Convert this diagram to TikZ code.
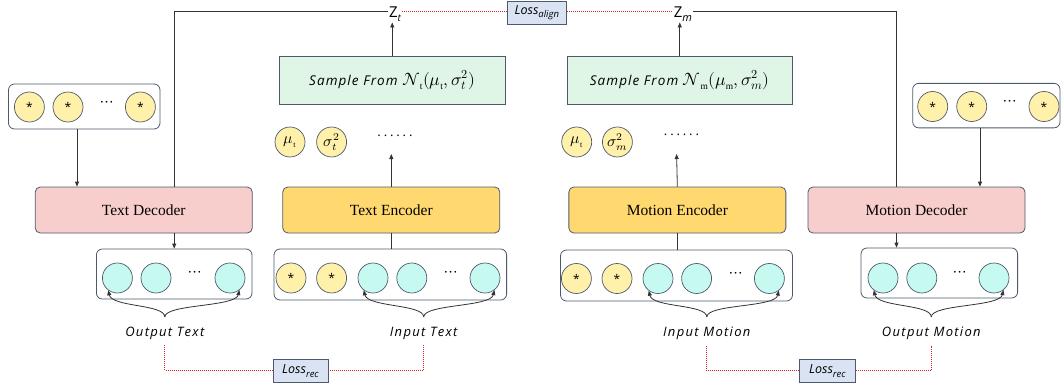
\documentclass[tikz,border=0pt]{standalone}
\usepackage{fontspec}
\usepackage{unicode-math}
\setmainfont{Liberation Serif}
\setmathfont{Latin Modern Math}[Scale=1.3]
\newfontfamily\sansf{Open Sans}
\newfontfamily\labf[LetterSpace=10]{Open Sans}
\newfontfamily\samf[LetterSpace=8]{Open Sans}
\newfontfamily\dotf[LetterSpace=22]{Open Sans}
\usetikzlibrary{arrows.meta}
\definecolor{bord}{HTML}{4D5A6E}
\definecolor{decfill}{HTML}{F8CECC}
\definecolor{encfill}{HTML}{FFD970}
\definecolor{samfill}{HTML}{DFF5E6}
\definecolor{ycirc}{HTML}{FFF0AA}
\definecolor{ccirc}{HTML}{C6FAF0}
\definecolor{lossfill}{HTML}{DAE3F3}
\definecolor{lnc}{HTML}{333333}
\definecolor{redl}{HTML}{E02020}
\tikzset{
  blk/.style={draw=bord, rounded corners=5pt, minimum width=217pt, minimum height=46pt, line width=0.8pt, font=\fontsize{15.5}{18}\selectfont},
  dec/.style={blk, fill=decfill},
  enc/.style={blk, fill=encfill},
  sam/.style={draw=bord, fill=samfill, minimum width=225.5pt, minimum height=48pt, line width=0.8pt, font=\samf\itshape\fontsize{13.5}{15}\selectfont},
  cont/.style={draw=bord, rounded corners=6pt, line width=0.8pt, inner sep=0pt},
  yc/.style={circle, draw=bord, fill=ycirc, minimum size=30pt, inner sep=0pt, line width=0.7pt, font=\sansf\fontsize{12}{14}\selectfont},
  cc/.style={yc, fill=ccirc},
  dts/.style={inner sep=0pt, font=\fontsize{13}{15}\selectfont},
  arr/.style={-{Triangle[length=5pt,width=4pt]}, draw=lnc, line width=0.8pt},
  ln/.style={draw=lnc, line width=0.8pt},
  reddot/.style={draw=redl, line width=0.8pt, dash pattern=on 1pt off 1pt},
  lossb/.style={draw=bord, fill=lossfill, line width=0.8pt, inner sep=0pt, font=\sansf\itshape\fontsize{12.5}{14}\selectfont},
  lab/.style={font=\labf\itshape\fontsize{13}{15}\selectfont, inner sep=1pt},
  zl/.style={font=\sansf\fontsize{15}{17}\selectfont, inner sep=1pt},
  mc/.style={yc, font=\fontsize{12}{14}\selectfont}
}
\begin{document}
\begin{tikzpicture}[x=1pt,y=-1pt]
\useasboundingbox (0,0) rectangle (1061,383);

% main blocks
\node[dec] (tdec) at (143.75,210) {Text Decoder};
\node[enc] (tenc) at (391.3,210) {Text Encoder};
\node[enc] (menc) at (677.35,210) {Motion Encoder};
\node[dec] (mdec) at (916.5,210) {Motion Decoder};

% sample boxes
\node[sam] (st) at (392.25,80) {Sample From $\mathcal{N}_{\mathrm{t}}(\mu_{\mathrm{t}},\sigma_t^2)$};
\node[sam] (sm) at (679.75,80) {Sample From $\mathcal{N}_{\mathrm{m}}(\mu_{\mathrm{m}},\sigma_m^2)$};

% Z labels
\node[zl] (zt) at (395,14) {Z\raisebox{-0.25em}{\fontsize{10}{12}\selectfont\itshape t}};
\node[zl] (zm) at (683,14) {Z\raisebox{-0.25em}{\fontsize{11}{12}\selectfont\itshape m}};

% loss boxes
\node[lossb, minimum width=59.6pt, minimum height=23.5pt] (lalign) at (536.8,12.75) {Loss\raisebox{-0.3em}{\fontsize{9.5}{11}\selectfont align}};
\node[lossb, minimum width=55pt, minimum height=23.5pt] (lrec1) at (300.5,370.75) {Loss\raisebox{-0.3em}{\fontsize{9.5}{11}\selectfont rec}};
\node[lossb, minimum width=56.8pt, minimum height=23.5pt] (lrec2) at (827.4,370.75) {Loss\raisebox{-0.3em}{\fontsize{9.5}{11}\selectfont rec}};

% star containers
\node[cont, minimum width=151.5pt, minimum height=45pt] (lstar) at (84.25,106.5) {};
\node[yc] (ls1) at (29.4,107) {*};
\node[yc] (ls2) at (68,107) {*};
\node[dts] (lsd) at (106.6,103.5) {$\cdots$};
\node[yc] (ls3) at (140.4,107) {*};

\node[cont, minimum width=147.3pt, minimum height=44.5pt] (rstar) at (986.35,105.6) {};
\node[yc] (rs1) at (932.7,106.5) {*};
\node[yc] (rs2) at (971.7,106.5) {*};
\node[dts] (rsd) at (1010,103) {$\cdots$};
\node[yc] (rs3) at (1044,106.5) {*};

% mu / sigma rows
\node[mc] (mut) at (290,142) {$\mu_{\mathrm{t}}$};
\node[mc] (sgt) at (331.6,142) {$\sigma_t^2$};
\node[dts, font=\dotf\fontsize{13}{15}\selectfont] (tdots) at (395,136) {......};
\node[mc] (mum) at (576.7,142) {$\mu_{\mathrm{t}}$};
\node[mc] (sgm) at (617.4,142) {$\sigma_m^2$};
\node[dts, font=\dotf\fontsize{13}{15}\selectfont] (mdots) at (681.5,135) {......};
\coordinate (tup) at (391.3,154);
\coordinate (mup) at (676.6,154);

% token containers
\node[cont, minimum width=155.6pt, minimum height=50pt] (otbox) at (174.2,274) {};
\node[cc] (ot1) at (117.4,278) {};
\node[cc] (ot2) at (156,278) {};
\node[dts] (otd) at (195,274) {$\cdots$};
\node[cc] (ot4) at (230,278) {};

\node[cont, minimum width=232.6pt, minimum height=51pt] (itbox) at (390.3,274.5) {};
\node[yc] (it1) at (291,278) {*};
\node[yc] (it2) at (331.6,278) {*};
\node[cc] (it3) at (373,278) {};
\node[cc] (it4) at (411.8,278) {};
\node[dts] (itd) at (451,274) {$\cdots$};
\node[cc] (it6) at (485,278) {};

\node[cont, minimum width=232pt, minimum height=51pt] (imbox) at (676.5,275.5) {};
\node[yc] (im1) at (576.4,278.5) {*};
\node[yc] (im2) at (617,278.5) {*};
\node[cc] (im3) at (658,278.5) {};
\node[cc] (im4) at (696.6,278.5) {};
\node[dts] (imd) at (735.9,274.5) {$\cdots$};
\node[cc] (im6) at (769.4,278.5) {};

\node[cont, minimum width=156.6pt, minimum height=50pt] (ombox) at (939.3,273) {};
\node[cc] (om1) at (883,278) {};
\node[cc] (om2) at (921.8,278) {};
\node[dts] (omd) at (960,274) {$\cdots$};
\node[cc] (om4) at (994,278) {};

% labels
\node[lab] (otl) at (164.8,333) {Output Text};
\node[lab] (itl) at (423.7,333) {Input Text};
\node[lab] (iml) at (706.8,333) {Input Motion};
\node[lab] (oml) at (931.3,333) {Output Motion};
\coordinate (otb) at (164.8,317);
\coordinate (itb) at (423.7,317);
\coordinate (imb) at (706.8,317);
\coordinate (omb) at (931.3,317);

% braces with arrows
\foreach \c/\a/\b in {otb/ot1/ot4, itb/it3/it6, imb/im3/im6, omb/om1/om4}{
  \draw[arr] (\c) .. controls +(0,-13) and +(4,17) .. (\a.233);
  \draw[arr] (\c) .. controls +(0,-13) and +(-4,17) .. (\b.308);
}

% connectors
\draw[arr] ([xshift=-7.25pt]lstar.south) -- ([xshift=-7.25pt]lstar.south |- tdec.north);
\draw[arr] ([xshift=-6.35pt]rstar.south) -- ([xshift=-6.35pt]rstar.south |- mdec.north);
\draw[arr] (tdec.south -| otbox) -- (otbox.north);
\draw[arr] ([xshift=-20pt]mdec.south) -- ([xshift=-20pt]mdec.south |- ombox.north);
\draw[ln] (tenc.south) -- (tenc.south |- itbox.north);
\draw[ln] (menc.south) -- (menc.south |- imbox.north);
\draw[arr] (tenc.north) -- (tup);
\draw[arr] (menc.north) -- (mup);
\draw[arr] (st.north) -- (st.north |- zt.south);
\draw[arr] (sm.north) -- (sm.north |- zm.south);
\draw[ln] (tdec.north -| otbox) |- ([yshift=3pt]zt.west);
\draw[ln] ([yshift=3pt]zm.east) -| ([xshift=-20pt]mdec.north);

% red dotted losses
\draw[reddot] ([yshift=3pt]zt.east) -- ([yshift=3pt]zt.east -| lalign.west);
\draw[reddot] ([yshift=3pt]zm.west -| lalign.east) -- ([yshift=3pt]zm.west);
\draw[reddot] ([yshift=-5pt]otl.south) |- (lrec1.west);
\draw[reddot] (lrec1.east) -| ([yshift=-5pt]itl.south);
\draw[reddot] ([yshift=-5pt]iml.south) |- (lrec2.west);
\draw[reddot] (lrec2.east) -| ([yshift=-5pt]oml.south);
\end{tikzpicture}
\end{document}
